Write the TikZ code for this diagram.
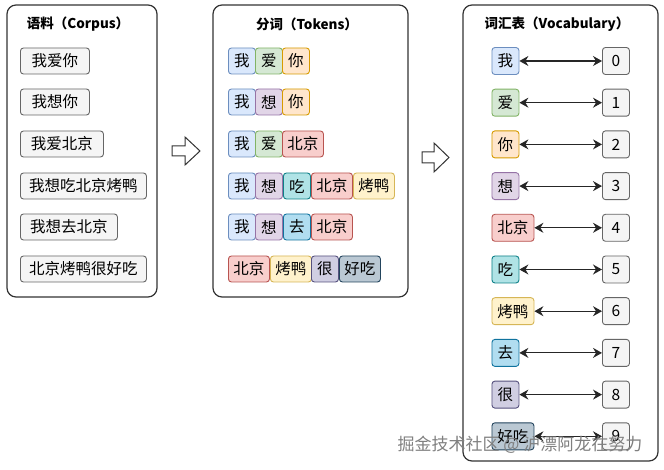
\documentclass[tikz,border=0pt]{standalone}
\usepackage{fontspec}
\setmainfont{Noto Sans CJK SC}
\usetikzlibrary{arrows.meta}
\definecolor{grayF}{HTML}{F5F5F5}\definecolor{grayD}{HTML}{666666}
\definecolor{blueF}{HTML}{DAE8FC}\definecolor{blueD}{HTML}{6C8EBF}
\definecolor{greenF}{HTML}{D5E8D4}\definecolor{greenD}{HTML}{82B366}
\definecolor{orangeF}{HTML}{FFE6CC}\definecolor{orangeD}{HTML}{D79B00}
\definecolor{purpleF}{HTML}{E1D5E7}\definecolor{purpleD}{HTML}{9673A6}
\definecolor{redF}{HTML}{F8CECC}\definecolor{redD}{HTML}{B85450}
\definecolor{tealF}{HTML}{B0E3E6}\definecolor{tealD}{HTML}{0E8088}
\definecolor{yellowF}{HTML}{FFF2CC}\definecolor{yellowD}{HTML}{D6B656}
\definecolor{skyF}{HTML}{B1DDF0}\definecolor{skyD}{HTML}{10739E}
\definecolor{lavF}{HTML}{D0CEE2}\definecolor{lavD}{HTML}{56517E}
\definecolor{slateF}{HTML}{BAC8D3}\definecolor{slateD}{HTML}{23445D}
\tikzset{
  panel/.style={draw=black!80, line width=1.2pt, rounded corners=9pt, fill=white},
  ptitle/.style={font=\bfseries\fontsize{13.5pt}{14pt}\selectfont, inner sep=0pt},
  box/.style={draw, rounded corners=3pt, line width=0.9pt, inner sep=0pt, minimum height=26pt, anchor=west, font=\fontsize{15.5pt}{16pt}\selectfont},
  corpus/.style={box, fill=grayF, draw=grayD},
  numbox/.style={box, fill=grayF, draw=grayD, minimum width=27pt, minimum height=27pt},
  wo/.style={box, fill=blueF, draw=blueD},
  ai/.style={box, fill=greenF, draw=greenD},
  ni/.style={box, fill=orangeF, draw=orangeD},
  xiang/.style={box, fill=purpleF, draw=purpleD},
  bj/.style={box, fill=redF, draw=redD},
  chi/.style={box, fill=tealF, draw=tealD},
  ky/.style={box, fill=yellowF, draw=yellowD},
  qu/.style={box, fill=skyF, draw=skyD},
  hen/.style={box, fill=lavF, draw=lavD},
  hc/.style={box, fill=slateF, draw=slateD},
  one/.style={minimum width=27pt},
  two/.style={minimum width=41pt},
  varrow/.style={{Stealth[length=9pt,width=10pt,inset=3pt]}-{Stealth[length=9pt,width=10pt,inset=3pt]}, line width=1.1pt, black!85},
  barrow/.style={draw=black!80, line width=1pt, fill=white, line join=miter},
}
\begin{document}
\begin{tikzpicture}[x=1pt,y=-1pt]
\useasboundingbox (0,0) rectangle (664,470);
\fill[white] (0,0) rectangle (664,470);
% panels
\draw[panel] (7,5) rectangle (157,297);
\draw[panel] (213,5) rectangle (408,297);
\draw[panel] (463,5) rectangle (658,461);
\node[ptitle] (t1) at (78,24) {语料（Corpus）};
\node[ptitle] (t2) at (307,24) {分词（Tokens）};
\node[ptitle] (t3) at (557,24) {词汇表（Vocabulary）};
% corpus
\node[corpus, minimum width=69pt] (c1) at (20,61) {我爱你};
\node[corpus, minimum width=69pt] (c2) at (20,102) {我想你};
\node[corpus, minimum width=83pt] (c3) at (20,144) {我爱北京};
\node[corpus, minimum width=126pt] (c4) at (20,186) {我想吃北京烤鸭};
\node[corpus, minimum width=97pt] (c5) at (20,227) {我想去北京};
\node[corpus, minimum width=126pt] (c6) at (20,269) {北京烤鸭很好吃};
% tokens
\node[wo,one] (a1) at (228,61) {我};
\node[ai,one] (a2) at (255,61) {爱};
\node[ni,one] (a3) at (282,61) {你};
\node[wo,one] (b1) at (228,102) {我};
\node[xiang,one] (b2) at (255,102) {想};
\node[ni,one] (b3) at (282,102) {你};
\node[wo,one] (d1) at (228,144) {我};
\node[ai,one] (d2) at (255,144) {爱};
\node[bj,two] (d3) at (282,144) {北京};
\node[wo,one] (e1) at (228,186) {我};
\node[xiang,one] (e2) at (255,186) {想};
\node[chi,one] (e3) at (283,186) {吃};
\node[bj,two] (e4) at (311,186) {北京};
\node[ky,two] (e5) at (353,186) {烤鸭};
\node[wo,one] (f1) at (228,227) {我};
\node[xiang,one] (f2) at (255,227) {想};
\node[qu,one] (f3) at (283,227) {去};
\node[bj,two] (f4) at (311,227) {北京};
\node[bj,two] (g1) at (228,269) {北京};
\node[ky,two] (g2) at (270,269) {烤鸭};
\node[hen,one] (g3) at (311,269) {很};
\node[hc,two] (g4) at (339,269) {好吃};
% vocabulary
\foreach \st/\w/\txt [count=\i from 0] in {wo/27/我, ai/27/爱, ni/27/你, xiang/27/想, bj/42/北京, chi/27/吃, ky/42/烤鸭, qu/27/去, hen/27/很, hc/42/好吃}{
  \node[\st, minimum width=\w pt, minimum height=27pt] (v\i) at (491.5,61+41.7*\i) {\txt};
  \node[numbox] (n\i) at (602,61+41.7*\i) {\i};
  \draw[varrow] (v\i.east) -- (n\i.west);
}
% block arrows
\draw[barrow] (172,146) -- (185,146) -- (185,137) -- (200,151) -- (185,165) -- (185,156) -- (172,156) -- cycle;
\draw[barrow] (422,152) -- (434,152) -- (434,143) -- (449,157.5) -- (434,172) -- (434,163) -- (422,163) -- cycle;
% watermark
\node[text=black!50, font=\fontsize{17pt}{17pt}\selectfont, inner sep=0pt] (wm) at (520,445) {掘金技术社区 @ 沪漂阿龙在努力};
\end{tikzpicture}
\end{document}
